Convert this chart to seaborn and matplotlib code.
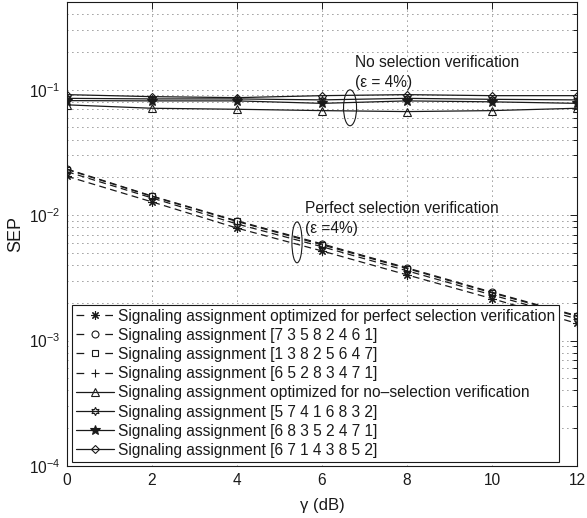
import numpy as np
import pandas as pd
import matplotlib
matplotlib.use('Agg')
import matplotlib.pyplot as plt
import seaborn as sns
from matplotlib.patches import Ellipse
from matplotlib.ticker import LogLocator, NullFormatter, FixedLocator

# ---------------- data ----------------
gamma_db = [0, 2, 4, 6, 8, 10, 12]

# perfect selection verification (dashed)
sep_opt_perfect = [0.0204, 0.01275, 0.00788, 0.00518, 0.00334, 0.00216, 0.00137]
sep_73582461 = [0.0233, 0.0142, 0.0090, 0.0059, 0.0038, 0.00243, 0.00158]
sep_13825647 = [0.0231, 0.0141, 0.0089, 0.0058, 0.00375, 0.0024, 0.00156]
sep_65283471 = [0.0222, 0.0137, 0.0085, 0.0056, 0.00360, 0.00231, 0.00149]

# no selection verification (solid)
sep_opt_nosel = [0.0757, 0.0711, 0.0698, 0.0681, 0.0669, 0.0681, 0.0711]
sep_57416832 = [0.0853, 0.0844, 0.0844, 0.0829, 0.0853, 0.0838, 0.0829]
sep_68352471 = [0.0818, 0.0814, 0.0814, 0.0778, 0.0814, 0.0800, 0.0778]
sep_67143852 = [0.0913, 0.0880, 0.0864, 0.0896, 0.0913, 0.0896, 0.0896]

labels = [
    "Signaling assignment optimized for perfect selection verification",
    "Signaling assignment [7 3 5 8 2 4 6 1]",
    "Signaling assignment [1 3 8 2 5 6 4 7]",
    "Signaling assignment [6 5 2 8 3 4 7 1]",
    "Signaling assignment optimized for no\u2013selection verification",
    "Signaling assignment [5 7 4 1 6 8 3 2]",
    "Signaling assignment [6 8 3 5 2 4 7 1]",
    "Signaling assignment [6 7 1 4 3 8 5 2]",
]
series = [sep_opt_perfect, sep_73582461, sep_13825647, sep_65283471,
          sep_opt_nosel, sep_57416832, sep_68352471, sep_67143852]

x_ticks = [0, 2, 4, 6, 8, 10, 12]

# ---------------- style ----------------
sns.set_theme(style='white')
plt.rcParams['font.family'] = ['Liberation Sans', 'DejaVu Sans']
plt.rcParams['mathtext.fontset'] = 'custom'
plt.rcParams['mathtext.rm'] = 'Liberation Sans'
plt.rcParams['mathtext.it'] = 'Liberation Sans:italic'

dash = (0, (5.5, 3.5))
styles = [
    dict(marker=(8, 2, 0), linestyle=dash, mfc='k', ms=6),
    dict(marker='o', linestyle=dash, mfc='none', ms=5),
    dict(marker='s', linestyle=dash, mfc='none', ms=4.5),
    dict(marker='+', linestyle=dash, mfc='none', ms=6),
    dict(marker='^', linestyle='-', mfc='none', ms=5.5),
    dict(marker=(6, 1, 0), linestyle='-', mfc='none', ms=6),
    dict(marker='*', linestyle='-', mfc='k', ms=7),
    dict(marker='D', linestyle='-', mfc='none', ms=4.5),
]

fig = plt.figure(figsize=(5.87, 5.18), dpi=100)
ax = fig.add_axes([67 / 587, 52 / 518, 510 / 587, 464 / 518])

for lab, vals, st in zip(labels, series, styles):
    sns.lineplot(x=gamma_db, y=vals, ax=ax, color='k', linewidth=0.9,
                 linestyle=st['linestyle'], marker=st['marker'],
                 markersize=st['ms'], markerfacecolor=st['mfc'],
                 markeredgecolor='k', markeredgewidth=0.8, label=lab)

ax.set_yscale('log')
ax.set_ylim(1e-4, 0.5)
ax.set_xlim(0, 12)
ax.xaxis.set_major_locator(FixedLocator(x_ticks))
ax.yaxis.set_major_locator(LogLocator(base=10, numticks=10))
ax.yaxis.set_minor_locator(LogLocator(base=10, subs=np.arange(2, 10), numticks=20))
ax.yaxis.set_minor_formatter(NullFormatter())

ax.grid(which='major', axis='both', linestyle=(0, (1, 5)), color='0.2', linewidth=0.6)
ax.grid(which='minor', axis='y', linestyle=(0, (1, 5)), color='0.2', linewidth=0.6)

ax.tick_params(which='both', direction='in', top=True, right=True, colors='k',
               labelsize=11.2, width=0.7)
ax.tick_params(which='major', length=5, pad=5)
ax.tick_params(which='minor', length=3)
for sp in ax.spines.values():
    sp.set_color('k')
    sp.set_linewidth(0.8)

ax.set_xlabel('\u03b3 (dB)', fontsize=12, color='k', labelpad=7)
ax.set_ylabel('SEP', fontsize=13, color='k', labelpad=3)

# annotations
fs_ann = 11.2
ax.text(0.565, 0.869, 'No selection verification', transform=ax.transAxes,
        fontsize=fs_ann, va='center', ha='left', color='k')
ax.text(0.565, 0.826, '(\u03b5 = 4%)', transform=ax.transAxes,
        fontsize=fs_ann, va='center', ha='left', color='k')
ax.add_patch(Ellipse((0.555, 0.772), 0.0255, 0.0774, transform=ax.transAxes,
                     fill=False, edgecolor='k', linewidth=0.8))

ax.text(0.467, 0.555, 'Perfect selection verification', transform=ax.transAxes,
        fontsize=fs_ann, va='center', ha='left', color='k')
ax.text(0.467, 0.512, '(\u03b5 =4%)', transform=ax.transAxes,
        fontsize=fs_ann, va='center', ha='left', color='k')
ax.add_patch(Ellipse((0.451, 0.482), 0.02, 0.088, transform=ax.transAxes,
                     fill=False, edgecolor='k', linewidth=0.8))

leg = ax.legend(loc='lower left', bbox_to_anchor=(0.0098, 0.009),
                fontsize=11.2, frameon=True, fancybox=False, edgecolor='k',
                framealpha=1, borderaxespad=0, borderpad=0.25,
                handlelength=2.45, handletextpad=0.25, labelspacing=0.27)
leg.get_frame().set_linewidth(0.8)
for t in leg.get_texts():
    t.set_color('k')
for h in leg.legend_handles[:4]:
    h.set_linestyle((0, (6.2, 16.8)))

fig.savefig('out.png', dpi=100)
